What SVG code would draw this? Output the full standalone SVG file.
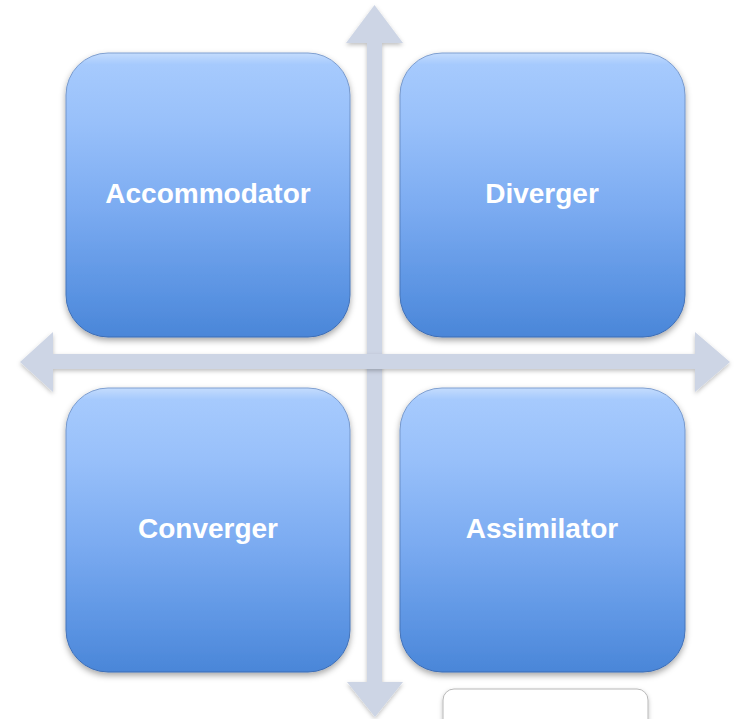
<svg xmlns="http://www.w3.org/2000/svg" width="736" height="719" viewBox="0 0 736 719">
<defs>
<linearGradient id="boxGrad" x1="0" y1="0" x2="0" y2="1">
<stop offset="0" stop-color="#c4dcfd"/>
<stop offset="0.04" stop-color="#a6cafd"/>
<stop offset="0.25" stop-color="#98c0fa"/>
<stop offset="0.55" stop-color="#7babf1"/>
<stop offset="0.85" stop-color="#5a93e2"/>
<stop offset="1" stop-color="#4a86d8"/>
</linearGradient>
<linearGradient id="edgeGrad" x1="0" y1="0" x2="0" y2="1">
<stop offset="0" stop-color="#7f9fd0"/>
<stop offset="1" stop-color="#3a6cb5"/>
</linearGradient>
<filter id="shadow" x="-10%" y="-10%" width="120%" height="125%">
<feDropShadow dx="0" dy="3" stdDeviation="3" flood-color="#000" flood-opacity="0.35"/>
</filter>
<filter id="arrowShadow" x="-10%" y="-10%" width="120%" height="120%">
<feDropShadow dx="0" dy="2" stdDeviation="2" flood-color="#000" flood-opacity="0.25"/>
</filter>
</defs>
<style>
.box{fill:url(#boxGrad);stroke:url(#edgeGrad);stroke-width:1;filter:url(#shadow)}
.lbl{font-family:"Liberation Sans",Arial,sans-serif;font-weight:bold;font-size:28px;fill:#fff;text-anchor:middle}
.arrow{fill:#cdd5e5;filter:url(#arrowShadow)}
</style>
<g id="connectors">
<path class="arrow" d="M374.5 5 L403 43 L382 43 L382 682 L403 682 L375 717 L347 682 L367 682 L367 43 L346 43 Z"/>
<path class="arrow" d="M20 362 L53 332 L53 354 L695 354 L695 332 L730 362 L695 392 L695 369 L53 369 L53 392 Z"/>
</g>
<g id="accommodator">
<rect class="box" x="66" y="53" width="284" height="284" rx="42"/>
<text class="lbl" x="208" y="203">Accommodator</text>
</g>
<g id="diverger">
<rect class="box" x="400" y="53" width="285" height="284" rx="42"/>
<text class="lbl" x="542" y="203">Diverger</text>
</g>
<g id="converger">
<rect class="box" x="66" y="388" width="284" height="284" rx="42"/>
<text class="lbl" x="208" y="538">Converger</text>
</g>
<g id="assimilator">
<rect class="box" x="400" y="388" width="285" height="284" rx="42"/>
<text class="lbl" x="542" y="538">Assimilator</text>
</g>
<g id="blank">
<rect x="443" y="689" width="205" height="50" rx="11" fill="#fff" stroke="#b8b8b8" stroke-width="1" filter="url(#arrowShadow)"/>
</g>
</svg>
